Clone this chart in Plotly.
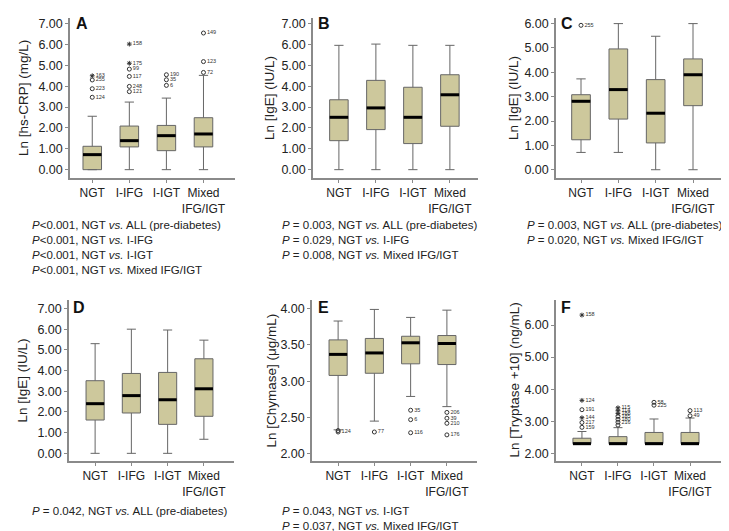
import plotly.graph_objects as go

W, H = 729, 531
CATS = ["NGT", "I-IFG", "I-IGT", "Mixed<br>IFG/IGT"]
POS = [1, 2, 3, 4]

# ---------------- Panel A: Ln [hs-CRP] (mg/L)
A_lo  = [0.00, 0.00, 0.00, 0.00]
A_q1  = [0.00, 1.09, 0.91, 1.09]
A_med = [0.72, 1.39, 1.63, 1.71]
A_q3  = [1.12, 2.09, 2.12, 2.49]
A_hi  = [2.56, 3.24, 3.43, 4.52]
A_out_grp  = [1, 1, 1, 1, 2, 2, 2, 2, 2, 2, 3, 3, 3, 4, 4, 4]
A_out_val  = [4.50, 4.30, 3.88, 3.47, 6.02, 5.10, 4.82, 4.47, 3.99, 3.74, 4.55, 4.31, 4.04, 6.55, 5.18, 4.66]
A_out_id   = ["163", "255", "223", "124", "158", "175", "99", "117", "248", "121", "190", "35", "6", "149", "123", "72"]
A_out_star = [1, 0, 0, 0, 1, 1, 0, 0, 0, 0, 0, 0, 0, 0, 0, 0]

# ---------------- Panel B: Ln [IgE] (IU/L)
B_lo  = [0.00, 0.00, 0.00, 0.00]
B_q1  = [1.39, 1.92, 1.25, 2.08]
B_med = [2.51, 2.96, 2.51, 3.59]
B_q3  = [3.35, 4.28, 3.95, 4.55]
B_hi  = [5.96, 6.02, 5.96, 5.96]
B_out_grp, B_out_val, B_out_id, B_out_star = [], [], [], []

# ---------------- Panel C: Ln [IgE] (IU/L)
C_lo  = [0.71, 0.71, 0.00, 0.00]
C_q1  = [1.23, 2.08, 1.10, 2.63]
C_med = [2.81, 3.29, 2.32, 3.90]
C_q3  = [3.08, 4.96, 3.70, 4.55]
C_hi  = [3.73, 6.00, 5.48, 6.00]
C_out_grp  = [1]
C_out_val  = [5.93]
C_out_id   = ["255"]
C_out_star = [0]

# ---------------- Panel D: Ln [IgE] (IU/L)
D_lo  = [0.00, 0.00, 0.00, 0.68]
D_q1  = [1.61, 1.95, 1.40, 1.79]
D_med = [2.40, 2.79, 2.59, 3.12]
D_q3  = [3.51, 3.86, 3.91, 4.57]
D_hi  = [5.30, 6.00, 5.96, 5.47]
D_out_grp, D_out_val, D_out_id, D_out_star = [], [], [], []

# ---------------- Panel E: Ln [Chymase] (μg/mL)
E_lo  = [2.33, 2.45, 2.79, 2.65]
E_q1  = [3.08, 3.11, 3.24, 3.23]
E_med = [3.37, 3.39, 3.53, 3.52]
E_q3  = [3.57, 3.59, 3.62, 3.63]
E_hi  = [3.83, 3.99, 3.88, 3.98]
E_out_grp  = [1, 1, 2, 3, 3, 3, 4, 4, 4, 4]
E_out_val  = [2.32, 2.30, 2.30, 2.60, 2.47, 2.29, 2.57, 2.49, 2.42, 2.26]
E_out_id   = ["", "124", "77", "35", "6", "116", "206", "39", "210", "176"]
E_out_star = [0, 0, 0, 0, 0, 0, 0, 0, 0, 0]

# ---------------- Panel F: Ln [Tryptase +10] (ng/mL)
F_lo  = [2.30, 2.30, 2.30, 2.30]
F_q1  = [2.30, 2.30, 2.30, 2.30]
F_med = [2.30, 2.30, 2.30, 2.30]
F_q3  = [2.47, 2.52, 2.65, 2.65]
F_hi  = [2.68, 2.80, 3.07, 3.10]
F_out_grp  = [1, 1, 1, 1, 1, 1, 2, 2, 2, 2, 2, 2, 2, 3, 3, 4, 4]
F_out_val  = [6.31, 3.65, 3.36, 3.11, 2.96, 2.81, 3.42, 3.33, 3.24, 3.15, 3.06, 2.97, 2.88, 3.59, 3.50, 3.33, 3.17]
F_out_id   = ["158", "124", "191", "144", "217", "159", "115", "114", "188", "185", "180", "216", "", "58", "225", "113", "49"]
F_out_star = [1, 1, 0, 1, 0, 0, 1, 1, 1, 0, 0, 0, 0, 0, 0, 0, 0]

# ---------------- P-value notes
A_notes = ["<i>P</i>&lt;0.001, NGT <i>vs.</i> ALL (pre-diabetes)",
           "<i>P</i>&lt;0.001, NGT <i>vs.</i> I-IFG",
           "<i>P</i>&lt;0.001, NGT <i>vs.</i> I-IGT",
           "<i>P</i>&lt;0.001, NGT <i>vs.</i> Mixed IFG/IGT"]
B_notes = ["<i>P</i> = 0.003, NGT <i>vs.</i> ALL (pre-diabetes)",
           "<i>P</i> = 0.029, NGT <i>vs.</i> I-IFG",
           "<i>P</i> = 0.008, NGT <i>vs.</i> Mixed IFG/IGT"]
C_notes = ["<i>P</i> = 0.003, NGT <i>vs.</i> ALL (pre-diabetes)",
           "<i>P</i> = 0.020, NGT <i>vs.</i> Mixed IFG/IGT"]
D_notes = ["<i>P</i> = 0.042, NGT <i>vs.</i> ALL (pre-diabetes)"]
E_notes = ["<i>P</i> = 0.043, NGT <i>vs.</i> I-IGT",
           "<i>P</i> = 0.037, NGT <i>vs.</i> Mixed IFG/IGT"]
F_notes = []

BOX_FILL = "#cdc89c"
EDGE = "#666666"
AXIS = "#8a8a8a"
FONT = "Arial, Liberation Sans, sans-serif"

panels = [
    dict(key="A", lo=A_lo, q1=A_q1, med=A_med, q3=A_q3, hi=A_hi,
         og=A_out_grp, ov=A_out_val, oi=A_out_id, os=A_out_star, notes=A_notes,
         title="Ln [hs-CRP] (mg/L)", px=(62, 227, 10, 170), xr=(0.40, 4.85), yr=(-0.40, 7.27), dt=1,
         tx=15, lx=66, ly=16, nx=22, ny=217),
    dict(key="B", lo=B_lo, q1=B_q1, med=B_med, q3=B_q3, hi=B_hi,
         og=B_out_grp, ov=B_out_val, oi=B_out_id, os=B_out_star, notes=B_notes,
         title="Ln [IgE] (IU/L)", px=(305, 470, 10, 170), xr=(0.30, 4.76), yr=(-0.40, 7.27), dt=1,
         tx=261, lx=308, ly=16, nx=272, ny=217),
    dict(key="C", lo=C_lo, q1=C_q1, med=C_med, q3=C_q3, hi=C_hi,
         og=C_out_grp, ov=C_out_val, oi=C_out_id, os=C_out_star, notes=C_notes,
         title="Ln [IgE] (IU/L)", px=(548, 716, 10, 170), xr=(0.33, 4.83), yr=(-0.34, 6.23), dt=1,
         tx=505, lx=551, ly=16, nx=517, ny=217),
    dict(key="D", lo=D_lo, q1=D_q1, med=D_med, q3=D_q3, hi=D_hi,
         og=D_out_grp, ov=D_out_val, oi=D_out_id, os=D_out_star, notes=D_notes,
         title="Ln [IgE] (IU/L)", px=(61, 226, 292, 453), xr=(0.28, 4.83), yr=(-0.37, 7.41), dt=1,
         tx=14, lx=63, ly=299, nx=22, ny=503),
    dict(key="E", lo=E_lo, q1=E_q1, med=E_med, q3=E_q3, hi=E_hi,
         og=E_out_grp, ov=E_out_val, oi=E_out_id, os=E_out_star, notes=E_notes,
         title="Ln [Chymase] (μg/mL)", px=(304, 469, 292, 453), xr=(0.28, 4.83), yr=(1.90, 4.12), dt=0.5,
         tx=263, lx=308, ly=299, nx=272, ny=503),
    dict(key="F", lo=F_lo, q1=F_q1, med=F_med, q3=F_q3, hi=F_hi,
         og=F_out_grp, ov=F_out_val, oi=F_out_id, os=F_out_star, notes=F_notes,
         title="Ln [Tryptase +10] (ng/mL)", px=(548, 713, 292, 453), xr=(0.28, 4.86), yr=(1.76, 6.78), dt=1,
         tx=506, lx=551, ly=299, nx=517, ny=503),
]

fig = go.Figure()
annotations = []
layout_axes = {}
BOXW = 0.5

for i, p in enumerate(panels):
    n = i + 1
    xa = "x" if n == 1 else f"x{n}"
    ya = "y" if n == 1 else f"y{n}"
    xkey = "xaxis" if n == 1 else f"xaxis{n}"
    ykey = "yaxis" if n == 1 else f"yaxis{n}"
    L, R, T, B = p["px"]

    fig.add_trace(go.Box(
        x=POS, q1=p["q1"], median=p["med"], q3=p["q3"],
        lowerfence=p["lo"], upperfence=p["hi"],
        width=BOXW, whiskerwidth=0.5, boxpoints=False,
        fillcolor=BOX_FILL, line=dict(color=EDGE, width=1),
        xaxis=xa, yaxis=ya, showlegend=False, hoverinfo="skip"))

    mx, my = [], []
    for xp, m in zip(POS, p["med"]):
        mx += [xp - BOXW / 2, xp + BOXW / 2, None]
        my += [m, m, None]
    fig.add_trace(go.Scatter(x=mx, y=my, mode="lines",
                             line=dict(color="black", width=3),
                             xaxis=xa, yaxis=ya, showlegend=False, hoverinfo="skip"))

    for star in (0, 1):
        ox = [POS[g - 1] for g, s in zip(p["og"], p["os"]) if s == star]
        oy = [v for v, s in zip(p["ov"], p["os"]) if s == star]
        ot = [t for t, s in zip(p["oi"], p["os"]) if s == star]
        if not ox:
            continue
        fig.add_trace(go.Scatter(
            x=ox, y=oy, text=ot, mode="markers+text", textposition="middle right",
            textfont=dict(size=5.5, color="#333"),
            marker=dict(symbol="asterisk-open" if star else "circle-open",
                        size=4, color="#333", line=dict(width=1, color="#333")),
            xaxis=xa, yaxis=ya, showlegend=False, hoverinfo="skip", cliponaxis=False))

    layout_axes[xkey] = dict(
        domain=[L / W, R / W], range=list(p["xr"]), anchor=ya,
        tickvals=POS, ticktext=CATS, tickangle=0, showline=True, linecolor=AXIS, linewidth=1.5,
        ticks="outside", ticklen=3, tickcolor=AXIS, showgrid=False, zeroline=False,
        tickfont=dict(size=12, color="#222", family=FONT), fixedrange=True)
    layout_axes[ykey] = dict(
        domain=[1 - B / H, 1 - T / H], range=list(p["yr"]), anchor=xa,
        dtick=p["dt"], tick0=0, tickformat=".2f", showline=True, linecolor=AXIS, linewidth=1.5,
        ticks="outside", ticklen=3, tickcolor=AXIS, showgrid=False, zeroline=False,
        tickfont=dict(size=12.5, color="#222", family=FONT), fixedrange=True)

    annotations.append(dict(x=p["tx"] / W, y=1 - ((T + B) / 2) / H, xref="paper", yref="paper",
                            text=p["title"], textangle=-90, showarrow=False,
                            xanchor="center", yanchor="middle",
                            font=dict(size=13.5, color="#222", family=FONT)))
    annotations.append(dict(x=p["lx"] / W, y=1 - p["ly"] / H, xref="paper", yref="paper",
                            text=f"<b>{p['key']}</b>", showarrow=False,
                            xanchor="left", yanchor="middle",
                            font=dict(size=16, color="#111", family=FONT)))
    for k, note in enumerate(p["notes"]):
        annotations.append(dict(x=p["nx"] / W, y=1 - (p["ny"] + 15 * k) / H, xref="paper", yref="paper",
                                text=note, showarrow=False, xanchor="left", yanchor="middle",
                                font=dict(size=11.5, color="#222", family=FONT)))

fig.update_layout(
    width=W, height=H, margin=dict(l=0, r=0, t=0, b=0),
    paper_bgcolor="white", plot_bgcolor="white", showlegend=False,
    font=dict(family=FONT), annotations=annotations, **layout_axes)

fig.write_html("out.html")
